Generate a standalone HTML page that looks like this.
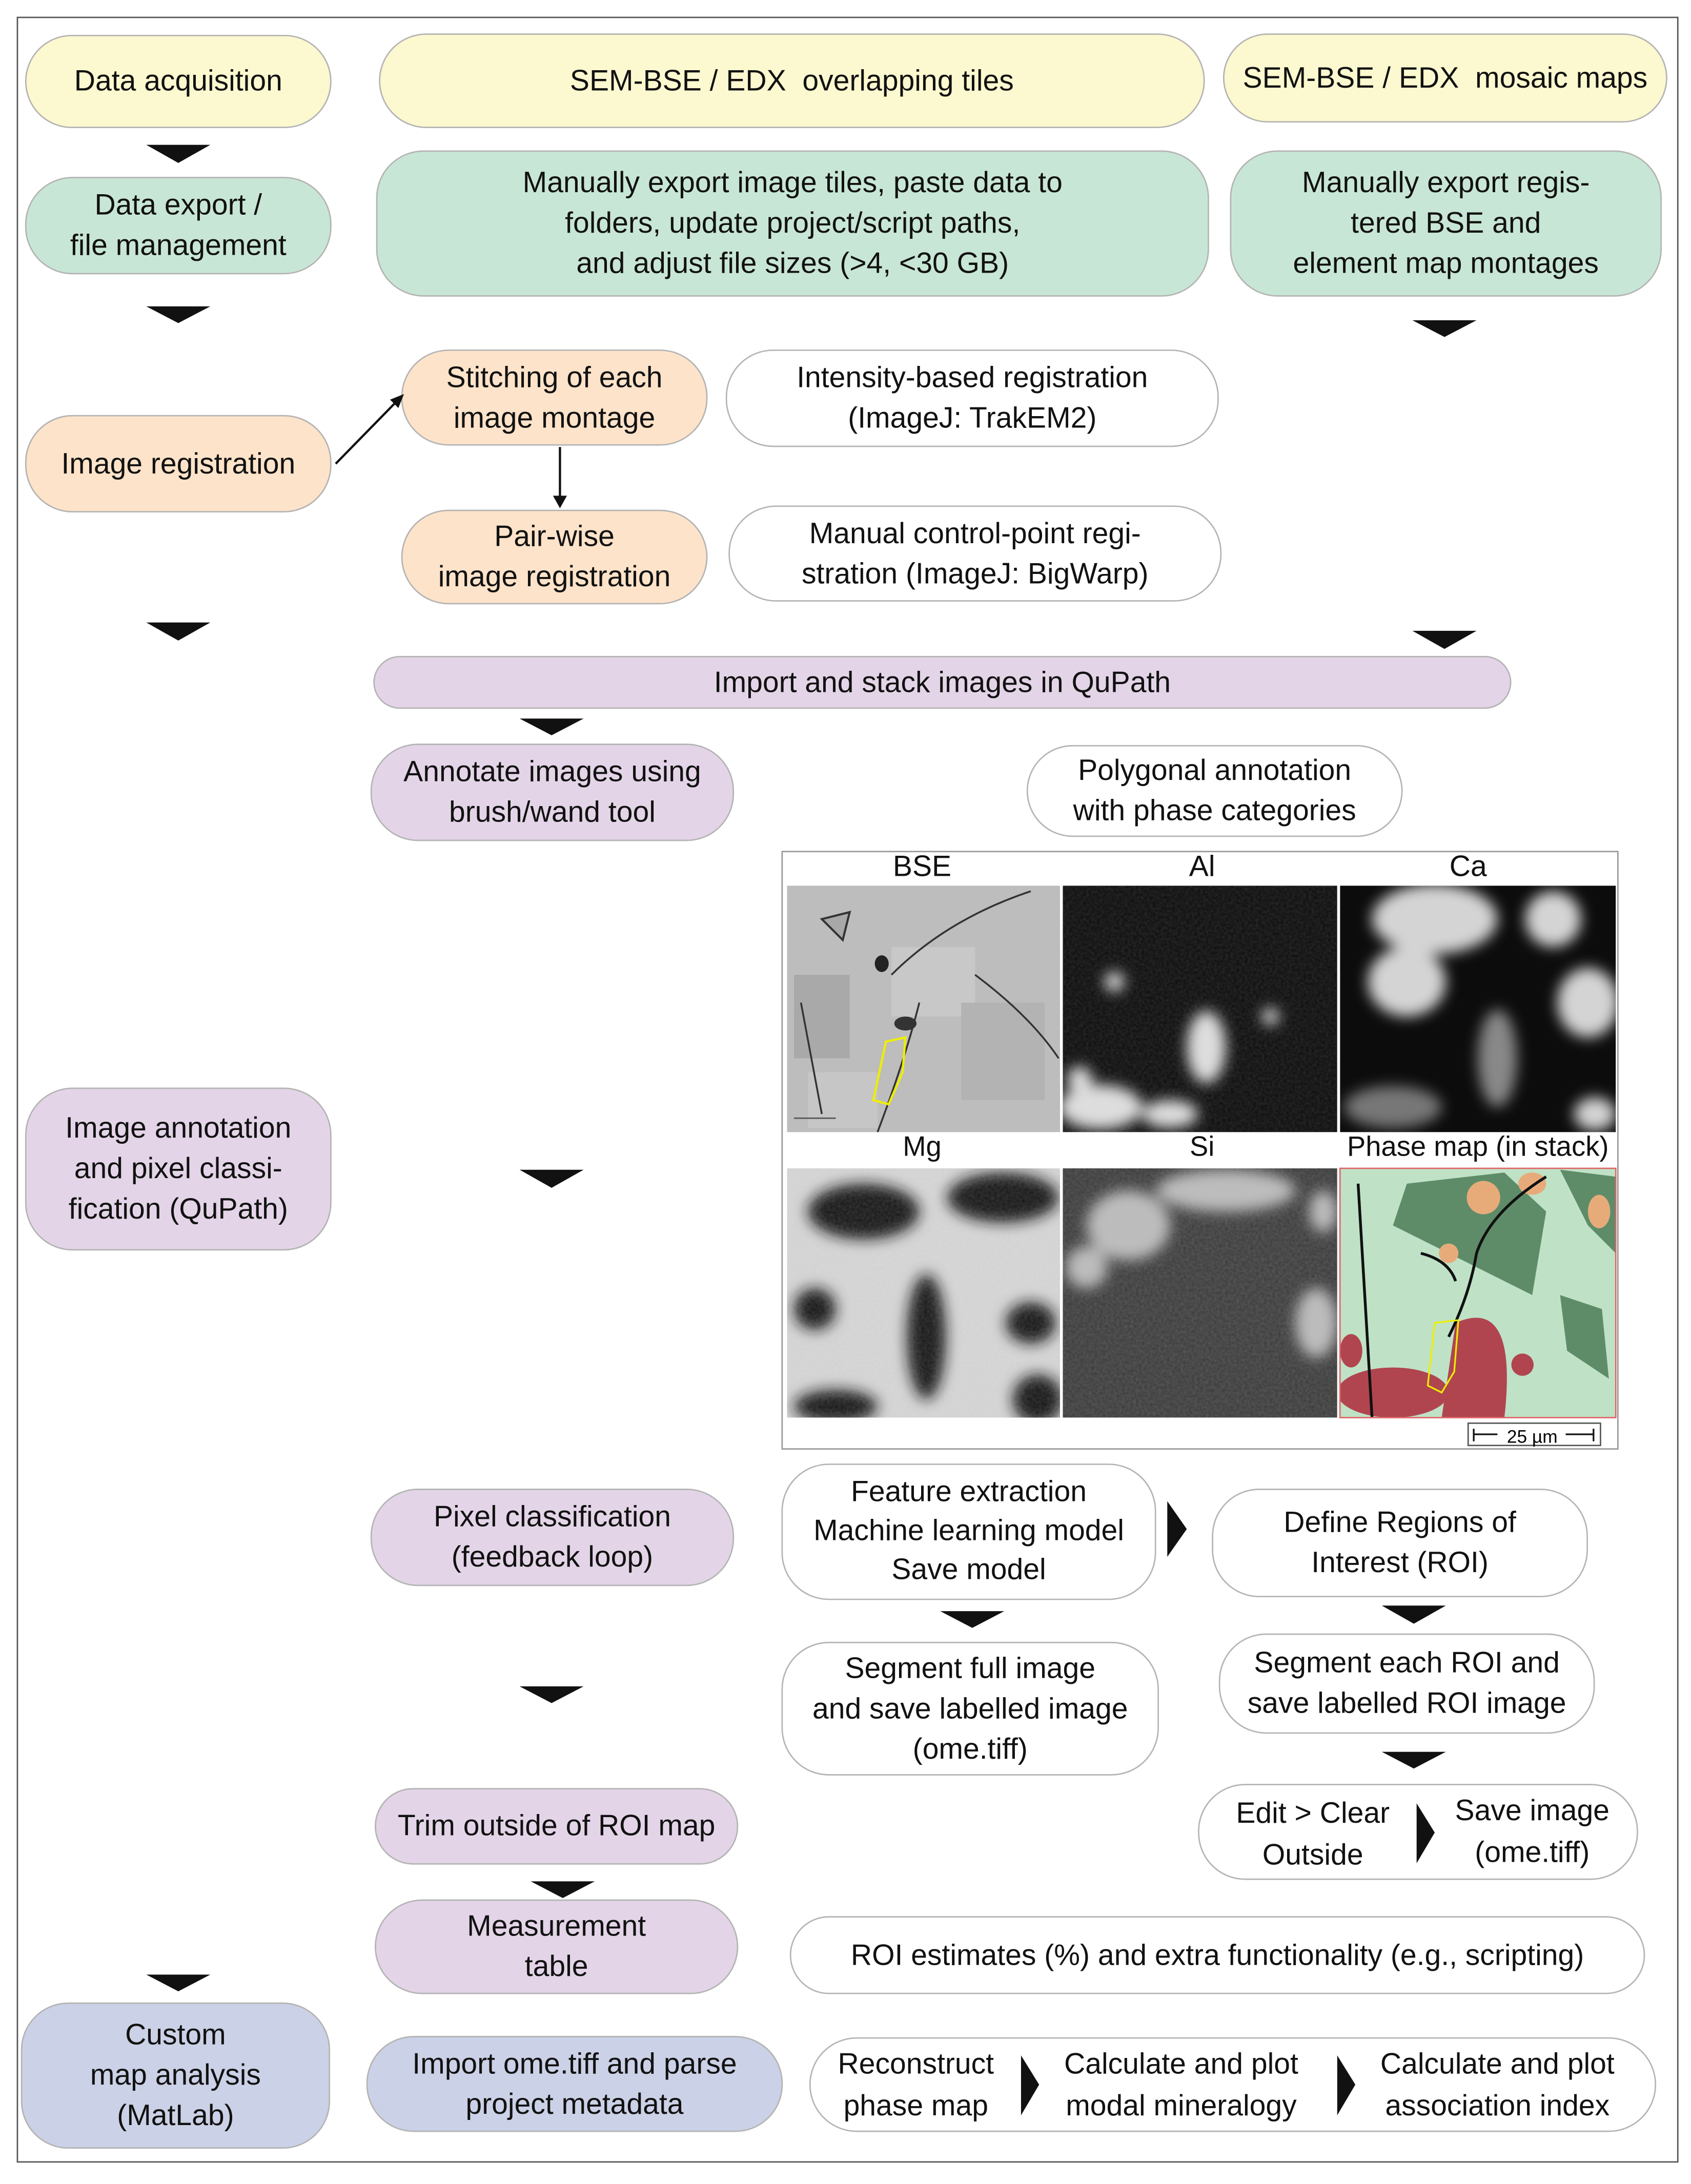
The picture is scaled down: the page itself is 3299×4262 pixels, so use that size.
<!DOCTYPE html>
<html><head><meta charset="utf-8"><style>
html,body{margin:0;padding:0;background:#fff;}
body{width:3299px;height:4262px;overflow:hidden;position:relative;}
#w{position:absolute;left:0;top:0;width:1214px;height:1568px;transform:scale(2.7175);transform-origin:0 0;font-family:"Liberation Sans",sans-serif;color:#111;}
.b{position:absolute;display:flex;align-items:center;justify-content:center;text-align:center;border:1.5px solid #b4b4b4;border-radius:34px;font-size:21px;line-height:29px;box-sizing:border-box;}
.y{background:#fcf8cf}.g{background:#c8e6d5}.p{background:#fde3c9}.u{background:#e3d5e7}.l{background:#cbd1e6}.wh{background:#fff}
.lab{position:absolute;font-size:21px;text-align:center;width:196px;}
svg{position:absolute;left:0;top:0;z-index:5;}
</style></head><body><div id="w">
<div style="position:absolute;left:12px;top:12px;width:1193px;height:1541px;border:1.5px solid #555;box-sizing:border-box"></div>

<div class="b y" style="left:18px;top:25px;width:220px;height:67px">Data acquisition</div>
<div class="b g" style="left:18px;top:127px;width:220px;height:70px">Data export /<br>file management</div>
<div class="b p" style="left:18px;top:298px;width:220px;height:70px">Image registration</div>
<div class="b u" style="left:18px;top:781px;width:220px;height:117px">Image annotation<br>and pixel classi-<br>fication (QuPath)</div>
<div class="b l" style="left:15px;top:1438px;width:222px;height:105px">Custom<br>map analysis<br>(MatLab)</div>

<div class="b y" style="left:272px;top:24px;width:593px;height:68px">SEM-BSE / EDX&nbsp; overlapping tiles</div>
<div class="b y" style="left:878px;top:24px;width:319px;height:64px">SEM-BSE / EDX&nbsp; mosaic maps</div>
<div class="b g" style="left:270px;top:108px;width:598px;height:105px">Manually export image tiles, paste data to<br>folders, update project/script paths,<br>and adjust file sizes (&gt;4, &lt;30 GB)</div>
<div class="b g" style="left:883px;top:108px;width:310px;height:105px">Manually export regis-<br>tered BSE and<br>element map montages</div>
<div class="b p" style="left:288px;top:251px;width:220px;height:69px">Stitching of each<br>image montage</div>
<div class="b p" style="left:288px;top:366px;width:220px;height:68px">Pair-wise<br>image registration</div>
<div class="b wh" style="left:521px;top:251px;width:354px;height:70px">Intensity-based registration<br>(ImageJ: TrakEM2)</div>
<div class="b wh" style="left:523px;top:363px;width:354px;height:69px">Manual control-point regi-<br>stration (ImageJ: BigWarp)</div>
<div class="b u" style="left:268px;top:471px;width:817px;height:38px">Import and stack images in QuPath</div>
<div class="b u" style="left:266px;top:534px;width:261px;height:70px">Annotate images using<br>brush/wand tool</div>
<div class="b wh" style="left:737px;top:535px;width:270px;height:66px">Polygonal annotation<br>with phase categories</div>

<div style="position:absolute;left:561px;top:611px;width:601px;height:430px;border:1.5px solid #999;box-sizing:border-box;background:#fff"></div>
<div class="lab" style="left:564px;top:611px">BSE</div>
<div class="lab" style="left:765px;top:611px">Al</div>
<div class="lab" style="left:956px;top:611px">Ca</div>
<div class="lab" style="left:564px;top:813px;font-size:20px">Mg</div>
<div class="lab" style="left:765px;top:813px;font-size:20px">Si</div>
<div class="lab" style="left:962px;top:813px;font-size:20px;width:198px;white-space:nowrap">Phase map (in stack)</div>

<div class="b u" style="left:266px;top:1069px;width:261px;height:70px">Pixel classification<br>(feedback loop)</div>
<div class="b wh" style="left:561px;top:1051px;width:269px;height:98px;line-height:28px">Feature extraction<br>Machine learning model<br>Save model</div>
<div class="b wh" style="left:870px;top:1069px;width:270px;height:78px">Define Regions of<br>Interest (ROI)</div>
<div class="b wh" style="left:561px;top:1179px;width:271px;height:96px">Segment full image<br>and save labelled image<br>(ome.tiff)</div>
<div class="b wh" style="left:875px;top:1173px;width:270px;height:72px">Segment each ROI and<br>save labelled ROI image</div>
<div class="b u" style="left:269px;top:1284px;width:261px;height:55px">Trim outside of ROI map</div>
<div class="b wh" style="left:860px;top:1281px;width:316px;height:69px"></div>
<div style="position:absolute;left:870px;top:1288px;width:145px;text-align:center;font-size:21px;line-height:30px">Edit &gt; Clear<br>Outside</div>
<div style="position:absolute;left:1030px;top:1286px;width:140px;text-align:center;font-size:21px;line-height:30px">Save image<br>(ome.tiff)</div>
<div class="b u" style="left:269px;top:1364px;width:261px;height:68px">Measurement<br>table</div>
<div class="b wh" style="left:567px;top:1376px;width:614px;height:56px">ROI estimates (%) and extra functionality (e.g., scripting)</div>
<div class="b l" style="left:263px;top:1462px;width:299px;height:69px">Import ome.tiff and parse<br>project metadata</div>
<div class="b wh" style="left:581px;top:1463px;width:608px;height:68px"></div>
<div style="position:absolute;left:585px;top:1468px;width:145px;text-align:center;font-size:21px;line-height:30px">Reconstruct<br>phase map</div>
<div style="position:absolute;left:748px;top:1468px;width:200px;text-align:center;font-size:21px;line-height:30px">Calculate and plot<br>modal mineralogy</div>
<div style="position:absolute;left:975px;top:1468px;width:200px;text-align:center;font-size:21px;line-height:30px">Calculate and plot<br>association index</div>

<svg width="1214" height="1568" viewBox="0 0 1214 1568">
<defs>
<filter id="bl" x="-20%" y="-20%" width="140%" height="140%"><feGaussianBlur stdDeviation="5"/></filter>
<filter id="nz"><feTurbulence type="fractalNoise" baseFrequency="0.5" numOctaves="2" seed="3"/><feColorMatrix type="matrix" values="0 0 0 0 0.5 0 0 0 0 0.5 0 0 0 0 0.5 0 0 0 0.35 0"/></filter>
<clipPath id="c1"><rect x="565" y="636" width="196" height="177"/></clipPath>
<clipPath id="c2"><rect x="763" y="636" width="197" height="177"/></clipPath>
<clipPath id="c3"><rect x="962" y="636" width="198" height="177"/></clipPath>
<clipPath id="c4"><rect x="565" y="839" width="196" height="179"/></clipPath>
<clipPath id="c5"><rect x="763" y="839" width="197" height="179"/></clipPath>
<clipPath id="c6"><rect x="962" y="839" width="198" height="179"/></clipPath>
</defs>
<g clip-path="url(#c1)"><rect x="565" y="636" width="196" height="177" fill="#bdbdbd"/>
<polygon points="590,660 610,655 605,675" fill="#a8a8a8" stroke="#333" stroke-width="1.5"/>
<rect x="570" y="700" width="40" height="60" fill="#a9a9a9"/><rect x="640" y="680" width="60" height="50" fill="#c8c8c8"/>
<rect x="690" y="720" width="60" height="70" fill="#b3b3b3"/><rect x="580" y="770" width="50" height="40" fill="#c6c6c6"/>
<path d="M640 700 Q680 660 740 640 M660 720 Q650 760 630 813 M700 700 Q740 730 760 760 M575 720 L590 800" stroke="#333" stroke-width="1.3" fill="none"/>
<ellipse cx="633" cy="692" rx="5" ry="6" fill="#222"/><ellipse cx="650" cy="735" rx="8" ry="5" fill="#333"/>
<path d="M636 748 L650 745 L648 770 L638 793 L627 790 Z" fill="none" stroke="#ee0" stroke-width="1.6"/>
<line x1="570" y1="803" x2="600" y2="803" stroke="#555"/></g>
<g clip-path="url(#c2)"><rect x="763" y="636" width="197" height="177" fill="#0c0c0c"/><rect x="763" y="636" width="197" height="177" filter="url(#nz)" opacity=".5"/>
<g filter="url(#bl)" fill="#ddd"><ellipse cx="866" cy="752" rx="14" ry="26"/><ellipse cx="800" cy="705" rx="7" ry="7"/><ellipse cx="790" cy="795" rx="30" ry="16"/><ellipse cx="840" cy="800" rx="20" ry="10"/><ellipse cx="912" cy="730" rx="6" ry="6"/><ellipse cx="775" cy="775" rx="9" ry="9"/></g></g>
<g clip-path="url(#c3)"><rect x="962" y="636" width="198" height="177" fill="#0c0c0c"/>
<g filter="url(#bl)" fill="#d4d4d4"><ellipse cx="1030" cy="660" rx="45" ry="25"/><ellipse cx="1010" cy="705" rx="28" ry="25"/><ellipse cx="1140" cy="720" rx="22" ry="25"/><ellipse cx="1115" cy="660" rx="20" ry="20"/><ellipse cx="1075" cy="760" rx="14" ry="35" fill="#888"/><ellipse cx="1000" cy="795" rx="35" ry="15" fill="#777"/><ellipse cx="1145" cy="800" rx="15" ry="12"/></g></g>
<g clip-path="url(#c4)"><rect x="565" y="839" width="196" height="179" fill="#d8d8d8"/>
<g filter="url(#bl)" fill="#151515"><ellipse cx="620" cy="870" rx="40" ry="20"/><ellipse cx="720" cy="860" rx="40" ry="18"/><ellipse cx="665" cy="960" rx="14" ry="45"/><ellipse cx="740" cy="950" rx="18" ry="15"/><ellipse cx="585" cy="940" rx="15" ry="15"/><ellipse cx="600" cy="1010" rx="30" ry="12"/><ellipse cx="745" cy="1005" rx="18" ry="18"/></g>
<rect x="565" y="839" width="196" height="179" filter="url(#nz)" opacity=".6"/></g>
<g clip-path="url(#c5)"><rect x="763" y="839" width="197" height="179" fill="#3a3a3a"/>
<g filter="url(#bl)" fill="#bdbdbd"><ellipse cx="810" cy="880" rx="30" ry="25"/><ellipse cx="880" cy="855" rx="50" ry="15"/><ellipse cx="945" cy="950" rx="15" ry="25"/><ellipse cx="950" cy="870" rx="10" ry="15"/><ellipse cx="780" cy="910" rx="15" ry="15"/></g>
<rect x="763" y="839" width="197" height="179" filter="url(#nz)" opacity=".7"/></g>
<g clip-path="url(#c6)"><rect x="962" y="839" width="198" height="179" fill="#bfe2c6"/>
<polygon points="1010,850 1080,842 1110,870 1100,930 1040,900 1000,880" fill="#5e8c68"/>
<polygon points="1120,840 1160,845 1160,900 1140,880" fill="#5e8c68"/><polygon points="1120,930 1150,940 1155,990 1125,970" fill="#5e8c68"/>
<ellipse cx="1065" cy="860" rx="12" ry="12" fill="#e7ab7a"/><ellipse cx="1100" cy="850" rx="10" ry="8" fill="#e7ab7a"/><ellipse cx="1148" cy="870" rx="8" ry="12" fill="#e7ab7a"/><ellipse cx="1040" cy="900" rx="7" ry="7" fill="#e7ab7a"/>
<path d="M1045 950 Q1090 930 1080 1018 L1035 1018 Z" fill="#b04550"/><ellipse cx="1000" cy="1000" rx="40" ry="18" fill="#b04550"/><ellipse cx="970" cy="970" rx="8" ry="12" fill="#b04550"/><ellipse cx="1093" cy="980" rx="8" ry="8" fill="#b04550"/>
<path d="M1040 960 Q1055 930 1060 900 Q1070 870 1110 845 M975 850 L985 1018 M1020 900 Q1040 905 1045 920" stroke="#111" stroke-width="2" fill="none"/>
<path d="M1030 950 L1047 948 L1044 985 L1035 1000 L1025 995 Z" fill="none" stroke="#ee0" stroke-width="1.2"/></g>
<rect x="962" y="839" width="198" height="179" fill="none" stroke="#d66" stroke-width="1"/>
<rect x="1054" y="1022" width="95" height="16" fill="#fff" stroke="#555" stroke-width="1"/>
<path d="M1058 1026 V1035 M1058 1030 H1075 M1124 1030 H1144 M1144 1026 V1035" stroke="#111" stroke-width="1.2"/>
<text x="1100" y="1036" font-family="Liberation Sans" font-size="13" text-anchor="middle">25 µm</text>

<line x1="241" y1="333" x2="285" y2="288" stroke="#111" stroke-width="1.6"/>
<polygon points="290,283 280,287 286,293" fill="#111"/>
<line x1="402" y1="321" x2="402" y2="358" stroke="#111" stroke-width="1.6"/>
<polygon points="397,356 407,356 402,365" fill="#111"/>
<g fill="#111">
<polygon points="105,104 151,104 128,117"/>
<polygon points="105,220 151,220 128,232"/>
<polygon points="105,447 151,447 128,460"/>
<polygon points="105,1418 151,1418 128,1430"/>
<polygon points="1014,230 1060,230 1037,242"/>
<polygon points="1014,453 1060,453 1037,466"/>
<polygon points="373,516 419,516 396,528"/>
<polygon points="373,840 419,840 396,853"/>
<polygon points="373,1211 419,1211 396,1223"/>
<polygon points="381,1351 427,1351 404,1363"/>
<polygon points="675,1157 721,1157 698,1169"/>
<polygon points="992,1153 1038,1153 1015,1166"/>
<polygon points="992,1258 1038,1258 1015,1270"/>
<polygon points="838,1078 852,1098 838,1118"/>
<polygon points="1017,1295 1030,1316 1017,1338"/>
<polygon points="733,1476 746,1497 733,1519"/>
<polygon points="960,1476 973,1497 960,1519"/>
</g>
</svg>
</div></body></html>
